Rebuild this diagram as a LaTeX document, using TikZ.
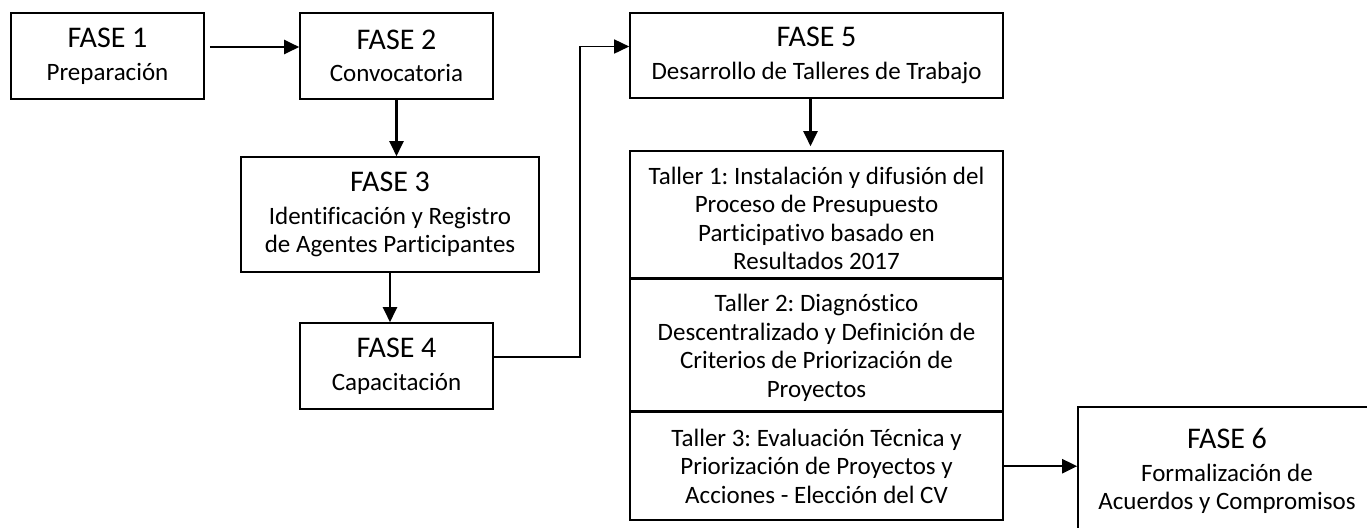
\documentclass[tikz,border=0pt]{standalone}
\usepackage{fontspec}
\setmainfont{Carlito}[Ligatures=NoCommon]
\usetikzlibrary{positioning,arrows.meta}
\frenchspacing

\newcommand{\fasetit}[1]{{\fontsize{15}{17}\selectfont #1}\\[2pt]}

\begin{document}
\begin{tikzpicture}[x=0.5pt,y=-0.5pt,
  fase/.style={draw,line width=0.8pt,align=center,inner sep=0pt,
    font=\fontsize{12.5}{14.3}\selectfont},
  taller/.style={fase,minimum width=186.5pt},
  arr/.style={-{Triangle[length=7.5pt,width=7pt]},line width=1.1pt}]
\useasboundingbox (0,0) rectangle (1367,527);
\clip (0,0) rectangle (1367,527);
\node [fase,minimum width=96.5pt,minimum height=43pt] (a) at (107.5,56) {\fasetit{FASE 1}Preparación};
\node [fase,minimum width=96.5pt,minimum height=43pt] (b) at (396.5,56) {\fasetit{FASE 2}Convocatoria};
\node [fase,minimum width=149pt,minimum height=57.5pt] (c) at (390,214.5) {\fasetit{FASE 3}Identificación y Registro\\de Agentes Participantes};
\node [fase,minimum width=96.5pt,minimum height=43pt] (d) at (396.5,366) {\fasetit{FASE 4}Capacitación};
\node [fase,minimum width=186.5pt,minimum height=42.5pt] (e) at (816.5,55.5) {\fasetit{FASE 5}Desarrollo de Talleres de Trabajo};
\node [taller,minimum height=63.5pt] (t1) at (816.5,214.5) {\rule{0pt}{12.5pt}Taller 1: Instalación y difusión del\\Proceso de Presupuesto\\Participativo basado en\\Resultados 2017};
\node [taller,minimum height=65.5pt,below=0pt of t1] (t2) {\rule{0pt}{11.5pt}Taller 2: Diagnóstico\\Descentralizado y Definición de\\Criterios de Priorización de\\Proyectos};
\node [taller,minimum height=54pt,below=0pt of t2] (t3) {Taller 3: Evaluación Técnica y\\Priorización de Proyectos y\\Acciones - Elección del CV};
\node [fase,minimum width=149pt,minimum height=64pt] (f) at (1227,471) {\fasetit{FASE 6}Formalización de\\Acuerdos y Compromisos};

\draw [arr] ([xshift=2.5pt,yshift=4.5pt]a.east) -- ([yshift=4.5pt]b.west);
\draw [arr] (b.south) -- (b.south |- c.north);
\draw [arr] (c.south) -- (c.south |- d.north);
\draw [arr,line width=0.8pt] ([yshift=4.5pt]d.east) -- ++(86,0) |- ([yshift=4.5pt]e.west);
\draw [arr] ([xshift=-3pt]e.south) -- ([xshift=-3pt,yshift=2pt]e.south |- t1.north);
\draw [arr] (t3.east) -- (t3.east -| f.west);
\end{tikzpicture}
\end{document}
